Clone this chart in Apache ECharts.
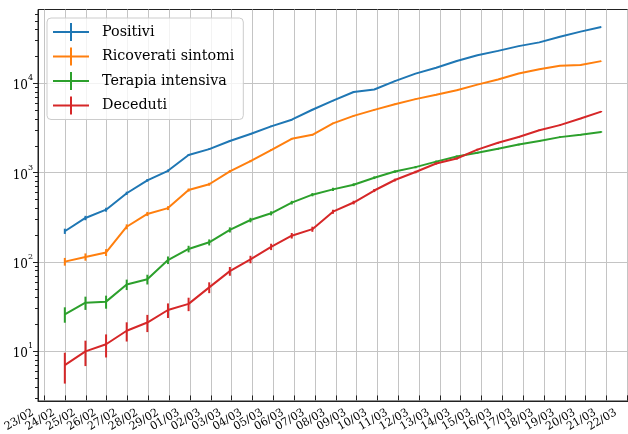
<!DOCTYPE html>
<html>
<head>
<meta charset="utf-8">
<script src="https://cdn.jsdelivr.net/npm/echarts@6/dist/echarts.min.js"></script>
<style>
  html, body { margin: 0; padding: 0; background: #ffffff; }
  #chart { width: 628px; height: 434px; }
</style>
</head>
<body>
<div id="chart"></div>
<script>
// Axis tick labels (one per day, 23/02 .. 22/03)
const tickLabels = ['23/02','24/02','25/02','26/02','27/02','28/02','29/02',
  '01/03','02/03','03/03','04/03','05/03','06/03','07/03','08/03','09/03','10/03',
  '11/03','12/03','13/03','14/03','15/03','16/03','17/03','18/03','19/03','20/03',
  '21/03','22/03'];

// Days with data (24/02 .. 21/03)
const dates = ['24/02','25/02','26/02','27/02','28/02','29/02',
  '01/03','02/03','03/03','04/03','05/03','06/03','07/03','08/03','09/03','10/03',
  '11/03','12/03','13/03','14/03','15/03','16/03','17/03','18/03','19/03','20/03','21/03'];

const positivi = [221, 311, 385, 588, 821, 1049, 1577, 1835, 2263, 2706, 3296, 3916,
  5061, 6387, 7985, 8514, 10590, 12839, 14955, 17750, 20603, 23073, 26062, 28710,
  33190, 37860, 42681];
const ricoverati = [101, 114, 128, 248, 345, 401, 639, 742, 1034, 1346, 1790, 2394,
  2651, 3557, 4316, 5038, 5838, 6650, 7426, 8372, 9663, 11025, 12894, 14363,
  15757, 16020, 17708];
const terapia = [26, 35, 36, 56, 64, 105, 140, 166, 229, 295, 351, 462, 567, 650,
  733, 877, 1028, 1153, 1328, 1518, 1672, 1851, 2060, 2257, 2498, 2655, 2857];
const deceduti = [7, 10, 12, 17, 21, 29, 34, 52, 79, 107, 148, 197, 233, 366, 463,
  631, 827, 1016, 1266, 1441, 1809, 2158, 2503, 2978, 3405, 4032, 4825];

const seriesNames = ['Positivi', 'Ricoverati sintomi', 'Terapia intensiva', 'Deceduti'];
const seriesValues = [positivi, ricoverati, terapia, deceduti];
const colors = ['#1f77b4', '#ff7f0e', '#2ca02c', '#d62728'];

const yMajor = [10, 100, 1000, 10000];
const yMinor = [];
for (let p = 0; p <= 4; p++) {
  for (let k = 2; k <= 9; k++) {
    const v = k * Math.pow(10, p);
    if (v > 2.78 && v < 67000) yMinor.push(v);
  }
}

// Plot frame: x runs from -1.3 to 27.3 (day index, 0 = 24/02)
const plotLeft = 38, plotTop = 9.5, plotWidth = 595.5, plotHeight = 391.5;
const xMin = -1.3, xMax = 27.3;
const dayWidth = plotWidth / (xMax - xMin);
// Day-tick band: first tick (23/02, index -1) to last tick (22/03, index 27)
const tickLeft = plotLeft + (-1 - xMin) * dayWidth;
const tickWidth = (tickLabels.length - 1) * dayWidth;

const serif = 'DejaVu Serif';
const legendIcon = 'path://M0,8h36v2H0z M17,0h2v18h-2z';

const series = [];
seriesNames.forEach((name, s) => {
  const vals = seriesValues[s];
  series.push({
    type: 'line',
    name: name,
    xAxisIndex: 0, yAxisIndex: 0,
    data: vals.map((v, i) => [i, v]),
    showSymbol: false,
    lineStyle: { color: colors[s], width: 2 },
    itemStyle: { color: colors[s] },
    z: 3 + s * 2
  });
  // Poisson error bars: value ± sqrt(value)
  series.push({
    type: 'custom',
    name: name,
    xAxisIndex: 0, yAxisIndex: 0,
    data: vals.map((v, i) => [i, v - Math.sqrt(v), v + Math.sqrt(v)]),
    encode: { x: 0, y: [1, 2] },
    itemStyle: { color: colors[s] },
    z: 4 + s * 2,
    renderItem: (params, api) => {
      const lo = api.coord([api.value(0), api.value(1)]);
      const hi = api.coord([api.value(0), api.value(2)]);
      return {
        type: 'line',
        shape: { x1: lo[0], y1: lo[1], x2: hi[0], y2: hi[1] },
        style: { stroke: colors[s], lineWidth: 2 }
      };
    }
  });
});

const chart = echarts.init(document.getElementById('chart'), null, { renderer: 'canvas' });
chart.setOption({
  animation: false,
  backgroundColor: '#ffffff',
  grid: [{
    left: plotLeft, top: plotTop, width: plotWidth, height: plotHeight,
    show: true, borderColor: '#222222', borderWidth: 1, backgroundColor: 'transparent'
  }, {
    left: tickLeft, top: plotTop, width: tickWidth, height: plotHeight, show: false
  }],
  legend: {
    orient: 'vertical', left: 47, top: 18,
    padding: [5, 9, 5, 6], itemGap: 6.5, itemWidth: 36, itemHeight: 18,
    backgroundColor: 'rgba(255,255,255,0.8)', borderColor: '#cccccc', borderWidth: 1, borderRadius: 4,
    textStyle: { fontFamily: serif, fontSize: 14.3, color: '#000000', padding: [0, 0, 0, 8] },
    data: seriesNames.map(n => ({ name: n, icon: legendIcon }))
  },
  xAxis: [{
    gridIndex: 0, type: 'value', min: xMin, max: xMax,
    axisLine: { show: true, onZero: false, lineStyle: { color: '#222222', width: 1 } },
    axisTick: { show: false },
    axisLabel: { show: false },
    splitLine: { show: false }
  }, {
    gridIndex: 1, type: 'category', boundaryGap: false, data: tickLabels,
    axisLine: { show: false, onZero: false },
    axisTick: { show: true, interval: 0, length: 5, lineStyle: { color: '#222222', width: 1 } },
    axisLabel: {
      interval: 0, rotate: 30, margin: 10, padding: [0, 13, 0, 0],
      fontFamily: serif, fontSize: 11, color: '#000000'
    },
    splitLine: { show: true, interval: 0, lineStyle: { color: '#c4c4c4', width: 1 } }
  }],
  yAxis: [{
    gridIndex: 0, type: 'log', min: 2.78, max: 67000, logBase: 10,
    axisLine: { show: true, onZero: false, lineStyle: { color: '#222222', width: 1 } },
    axisTick: { show: true, customValues: yMajor, length: 5, lineStyle: { color: '#222222', width: 1 } },
    axisLabel: {
      customValues: yMajor, margin: 5, color: '#000000',
      formatter: v => '{b|10}{s|' + Math.round(Math.log10(v)) + '}',
      rich: {
        b: { fontFamily: serif, fontSize: 12, color: '#000000', lineHeight: 18, verticalAlign: 'bottom' },
        s: { fontFamily: serif, fontSize: 8, color: '#000000', lineHeight: 18, verticalAlign: 'top' }
      }
    },
    splitLine: { show: true, lineStyle: { color: '#c4c4c4', width: 1 } }
  }, {
    gridIndex: 0, type: 'log', min: 2.78, max: 67000, logBase: 10, position: 'left',
    axisLine: { show: false, onZero: false },
    axisTick: { show: true, customValues: yMinor, length: 3, lineStyle: { color: '#222222', width: 1 } },
    axisLabel: { show: false },
    splitLine: { show: false }
  }, {
    gridIndex: 1, type: 'value', show: false
  }],
  series: series
});
</script>
</body>
</html>
